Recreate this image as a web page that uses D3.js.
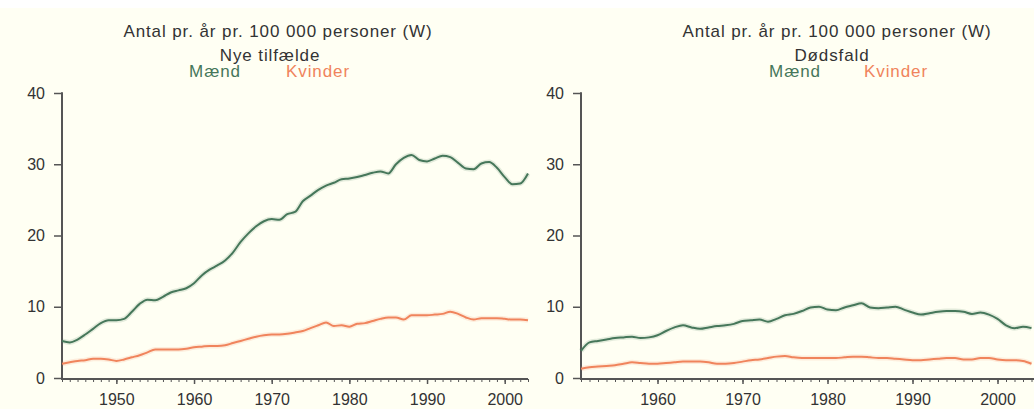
<!DOCTYPE html>
<html>
<head>
<meta charset="utf-8">
<script src="https://cdn.jsdelivr.net/npm/d3@7"></script>
<style>
  body { margin: 0; background: #fffff3; }
  svg { display: block; font-family: "Liberation Sans", Arial, sans-serif; }
</style>
</head>
<body>
<svg id="chart" width="1034" height="409"></svg>
<script>
// --- data ---
const yearsNew = d3.range(1943, 2004);
const menNew = [5.2, 5.0, 5.4, 6.1, 6.9, 7.7, 8.1, 8.1, 8.3, 9.3,
  10.4, 11.0, 10.9, 11.4, 12.0, 12.3, 12.6, 13.3, 14.4, 15.2,
  15.8, 16.5, 17.6, 19.1, 20.3, 21.3, 22.0, 22.3, 22.2, 23.0,
  23.3, 24.8, 25.6, 26.4, 27.0, 27.4, 27.9, 28.0, 28.2, 28.5,
  28.8, 29.0, 28.7, 30.0, 30.9, 31.3, 30.6, 30.4, 30.8, 31.2,
  31.0, 30.2, 29.4, 29.3, 30.1, 30.3, 29.5, 28.2, 27.2, 27.3, 28.7];
const womenNew = [2.0, 2.2, 2.4, 2.5, 2.7, 2.7, 2.6, 2.4, 2.6, 2.9,
  3.2, 3.6, 4.0, 4.0, 4.0, 4.0, 4.1, 4.3, 4.4, 4.5,
  4.5, 4.6, 4.9, 5.2, 5.5, 5.8, 6.0, 6.1, 6.1, 6.2,
  6.4, 6.6, 7.0, 7.4, 7.8, 7.3, 7.4, 7.2, 7.6, 7.7,
  8.0, 8.3, 8.5, 8.5, 8.2, 8.8, 8.8, 8.8, 8.9, 9.0,
  9.3, 9.0, 8.5, 8.2, 8.4, 8.4, 8.4, 8.3, 8.2, 8.2, 8.1];

const yearsDeath = d3.range(1951, 2005);
const menDeath = [3.8, 5.0, 5.2, 5.4, 5.6, 5.7, 5.8, 5.6, 5.7, 6.0,
  6.6, 7.1, 7.4, 7.1, 6.9, 7.1, 7.3, 7.4, 7.6, 8.0,
  8.1, 8.2, 7.9, 8.3, 8.8, 9.0, 9.4, 9.9, 10.0, 9.6,
  9.5, 9.9, 10.2, 10.5, 9.9, 9.8, 9.9, 10.0, 9.6, 9.2,
  8.9, 9.1, 9.3, 9.4, 9.4, 9.3, 9.0, 9.2, 8.9, 8.3,
  7.4, 7.0, 7.2, 7.0];
const womenDeath = [1.3, 1.5, 1.6, 1.7, 1.8, 2.0, 2.2, 2.1, 2.0, 2.0,
  2.1, 2.2, 2.3, 2.3, 2.3, 2.2, 2.0, 2.0, 2.1, 2.3,
  2.5, 2.6, 2.8, 3.0, 3.1, 2.9, 2.8, 2.8, 2.8, 2.8,
  2.8, 2.9, 3.0, 3.0, 2.9, 2.8, 2.8, 2.7, 2.6, 2.5,
  2.5, 2.6, 2.7, 2.8, 2.8, 2.6, 2.6, 2.8, 2.8, 2.6,
  2.5, 2.5, 2.4, 2.0];

const yTicks = [0, 10, 20, 30, 40];
const titleText = "Antal pr. år pr. 100 000 personer (W)";
const seriesNames = ["Mænd", "Kvinder"];

const GREEN = "#46775a";
const ORANGE = "#f0845c";
const AXIS = "#555";
const TEXT = "#333";

const svg = d3.select("#chart");
svg.append("rect").attr("width", 1034).attr("height", 8).attr("fill", "#fff");

const y = d3.scaleLinear().domain([0, 40]).range([378, 93]);

drawPanel({
  years: yearsNew, men: menNew, women: womenNew,
  xDomain: [1943, 2003], xRange: [62, 528],
  decades: [1950, 1960, 1970, 1980, 1990, 2000],
  subtitle: "Nye tilfælde",
  titleX: 278, subX: 270, menX: 215, womenX: 318
});

drawPanel({
  years: yearsDeath, men: menDeath, women: womenDeath,
  xDomain: [1951, 2005], xRange: [581, 1040],
  decades: [1960, 1970, 1980, 1990, 2000],
  subtitle: "Dødsfald",
  titleX: 837, subX: 832, menX: 795, womenX: 896
});

function drawPanel(p) {
  const x = d3.scaleLinear().domain(p.xDomain).range(p.xRange);
  const g = svg.append("g");
  const x0 = p.xRange[0];
  const axisY = y(0) + 1;

  // titles
  const t = g.append("g").attr("fill", TEXT).attr("font-size", 17)
    .attr("text-anchor", "middle").style("letter-spacing", "0.9px");
  t.append("text").attr("x", p.titleX).attr("y", 37).text(titleText);
  t.append("text").attr("x", p.subX).attr("y", 61).text(p.subtitle);
  t.append("text").attr("x", p.menX).attr("y", 77).attr("fill", GREEN).text(seriesNames[0]);
  t.append("text").attr("x", p.womenX).attr("y", 77).attr("fill", ORANGE).text(seriesNames[1]);

  // y axis
  const ya = g.append("g").attr("transform", `translate(${x0},0)`)
    .call(d3.axisLeft(y).tickValues(yTicks).tickSize(8).tickPadding(9).tickSizeOuter(0));
  ya.select(".domain").remove();
  ya.selectAll("line").attr("stroke", AXIS).attr("stroke-width", 1.5);
  ya.selectAll("text").attr("fill", TEXT).attr("font-size", 16)
    .attr("font-family", "Liberation Sans, Arial, sans-serif");
  g.append("line").attr("x1", x0).attr("x2", x0).attr("y1", y(40) - 0.75).attr("y2", axisY)
    .attr("stroke", AXIS).attr("stroke-width", 2);

  // x axis: yearly minor ticks + decade labels
  const allYears = d3.range(Math.ceil(p.xDomain[0]), p.xDomain[1] + 1);
  const xm = g.append("g").attr("transform", `translate(0,${axisY})`)
    .call(d3.axisBottom(x).tickValues(allYears).tickSize(3).tickFormat(""));
  xm.select(".domain").remove();
  xm.selectAll("line").attr("stroke", AXIS).attr("stroke-width", 1);
  const xa = g.append("g").attr("transform", `translate(0,${axisY})`)
    .call(d3.axisBottom(x).tickValues(p.decades).tickSize(5).tickPadding(10).tickFormat(d3.format("d")));
  xa.select(".domain").remove();
  xa.selectAll("line").attr("stroke", AXIS).attr("stroke-width", 1.5);
  xa.selectAll("text").attr("fill", TEXT).attr("font-size", 16)
    .attr("font-family", "Liberation Sans, Arial, sans-serif");
  g.append("line").attr("x1", x0 - 1).attr("x2", p.xRange[1]).attr("y1", axisY).attr("y2", axisY)
    .attr("stroke", AXIS).attr("stroke-width", 2);

  // lines
  const line = d3.line().x((d, i) => x(p.years[i])).y(d => y(d)).curve(d3.curveMonotoneX);
  [[p.women, ORANGE], [p.men, GREEN]].forEach(([vals, col]) => {
    g.append("path").attr("d", line(vals)).attr("fill", "none")
      .attr("stroke", col).attr("stroke-opacity", 0.15).attr("stroke-width", 5);
    g.append("path").attr("d", line(vals)).attr("fill", "none")
      .attr("stroke", col).attr("stroke-width", 2).attr("stroke-linejoin", "round");
  });
}
</script>
</body>
</html>
